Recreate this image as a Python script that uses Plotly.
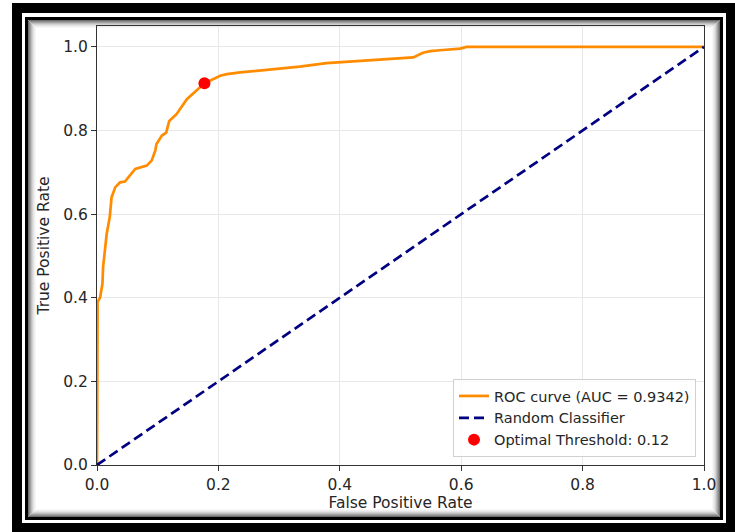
import plotly.graph_objects as go

# ---- data ----
fpr = [0.0, 0.0, 0.001, 0.005, 0.009, 0.010, 0.013, 0.016, 0.021, 0.024, 0.030, 0.038,
       0.046, 0.063, 0.082, 0.090, 0.096, 0.098, 0.107, 0.114, 0.119, 0.131, 0.148,
       0.164, 0.177, 0.203, 0.214, 0.236, 0.280, 0.301, 0.334, 0.378, 0.444, 0.516,
       0.521, 0.537, 0.549, 0.565, 0.598, 0.609, 1.0]
tpr = [0.0, 0.20, 0.39, 0.400, 0.434, 0.473, 0.513, 0.553, 0.593, 0.640, 0.664, 0.676,
       0.678, 0.708, 0.716, 0.728, 0.752, 0.768, 0.788, 0.795, 0.823, 0.839, 0.875,
       0.895, 0.913, 0.931, 0.935, 0.939, 0.945, 0.947, 0.953, 0.961, 0.968, 0.974,
       0.975, 0.986, 0.990, 0.992, 0.996, 1.0, 1.0]
random_x = [0.0, 1.0]
random_y = [0.0, 1.0]
optimal_fpr = [0.177]
optimal_tpr = [0.913]
auc_value = 0.9342
optimal_threshold = 0.12
tick_vals = [0.0, 0.2, 0.4, 0.6, 0.8, 1.0]
tick_text = ["0.0", "0.2", "0.4", "0.6", "0.8", "1.0"]

FONT = "DejaVu Sans"
FS = 15.5
LFS = 14.5
W, H = 735, 532
L, R, T, B = 97, 31, 26, 67
PW, PH = W - L - R, H - T - B


def px(x):
    return (x - L) / PW


def py(y):
    return (H - B - y) / PH


fig = go.Figure()
fig.add_trace(go.Scatter(x=fpr, y=tpr, mode="lines",
                         line=dict(color="#FF8C00", width=2.7),
                         name=f"ROC curve (AUC = {auc_value:.4f})"))
fig.add_trace(go.Scatter(x=random_x, y=random_y, mode="lines",
                         line=dict(color="#000080", width=2.7, dash="10px,5px"),
                         name="Random Classifier"))
fig.add_trace(go.Scatter(x=optimal_fpr, y=optimal_tpr, mode="markers",
                         marker=dict(color="#FF0000", size=12),
                         name=f"Optimal Threshold: {optimal_threshold:.2f}"))

# decorative frame
shapes = []
shapes.append(dict(type="rect", xref="paper", yref="paper", layer="below",
                   x0=px(12), x1=px(745), y0=py(3), y1=py(545),
                   fillcolor="black", line=dict(width=0)))
shapes.append(dict(type="rect", xref="paper", yref="paper", layer="below",
                   x0=px(22), x1=px(726), y0=py(13), y1=py(523),
                   fillcolor="white", line=dict(width=0)))
shapes.append(dict(type="rect", xref="paper", yref="paper", layer="below",
                   x0=px(25), x1=px(723), y0=py(17), y1=py(520),
                   fillcolor="black", line=dict(width=0)))
shapes.append(dict(type="rect", xref="paper", yref="paper", layer="below",
                   x0=px(28), x1=px(720), y0=py(20), y1=py(517),
                   fillcolor="white", line=dict(width=0)))
shade = ["#6e6e6e", "#8a8a8a", "#a3a3a3", "#bcbcbc", "#d2d2d2", "#e3e3e3", "#efefef", "#f7f7f7"]
for i, c in enumerate(shade):
    shapes.append(dict(type="rect", xref="paper", yref="paper", layer="below",
                       x0=px(28 + i + 0.5), x1=px(720 - i - 0.5),
                       y0=py(20 + i + 0.5), y1=py(517 - i - 0.5),
                       fillcolor="rgba(0,0,0,0)", line=dict(color=c, width=1)))

axis_common = dict(showgrid=True, gridcolor="#e8e8e8", gridwidth=1, zeroline=False,
                   showline=True, linecolor="#333333", linewidth=1, mirror=True,
                   ticks="outside", ticklen=5, tickcolor="#333333", tickwidth=1,
                   tickvals=tick_vals, ticktext=tick_text,
                   tickfont=dict(family=FONT, size=FS, color="#262626"),
                   automargin=False)

fig.update_layout(
    width=W, height=H,
    margin=dict(l=L, r=R, t=T, b=B),
    paper_bgcolor="white", plot_bgcolor="white",
    font=dict(family=FONT, size=FS, color="#262626"),
    showlegend=True,
    legend=dict(x=px(696), y=py(457), xanchor="right", yanchor="bottom",
                bgcolor="rgba(255,255,255,0.8)", bordercolor="#d0d0d0", borderwidth=1,
                font=dict(family=FONT, size=LFS, color="#262626")),
    xaxis=dict(range=[0, 1], title=dict(text="False Positive Rate", standoff=1,
                                        font=dict(family=FONT, size=FS)), **axis_common),
    yaxis=dict(range=[0, 1.05], title=dict(text="True Positive Rate", standoff=9,
                                           font=dict(family=FONT, size=FS)), **axis_common),
    shapes=shapes,
    hovermode=False,
)

fig.write_html("out.html")
